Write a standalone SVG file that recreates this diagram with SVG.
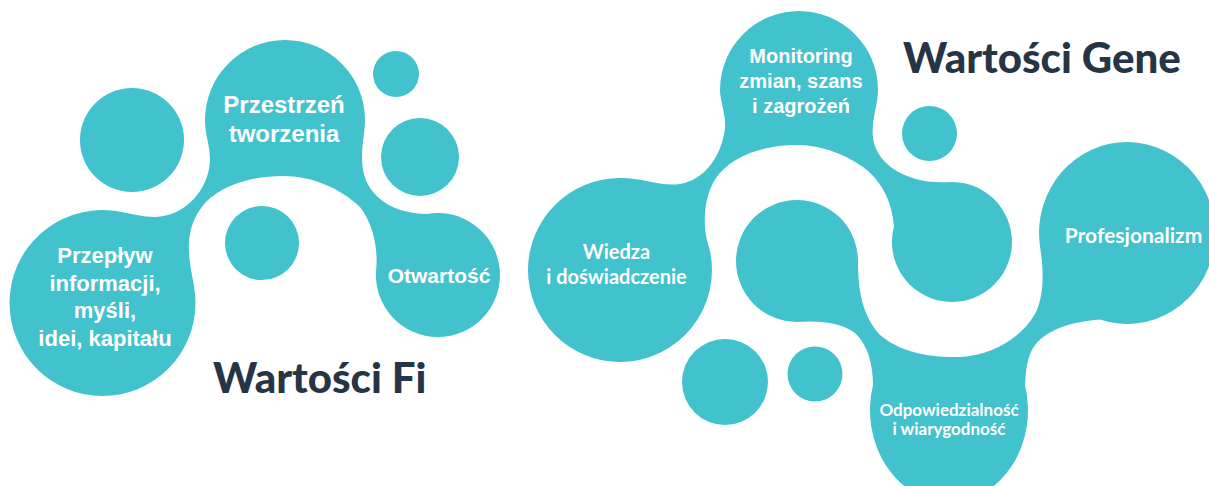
<svg xmlns="http://www.w3.org/2000/svg" width="1209" height="486" viewBox="0 0 1209 486">
<style>
.t{fill:#42C2CC}
.a{font-family:"Liberation Sans",Arial,sans-serif;font-weight:700;fill:#fff;text-anchor:middle}
.l{font-family:Lato,"Noto Sans",sans-serif;font-weight:700;fill:#fff;text-anchor:middle}
.h{font-family:Lato,"Noto Sans",sans-serif;font-weight:900;fill:#263545}
</style>
<rect width="1209" height="486" fill="#fff"/>
<g id="shapes-fi">
<path class="t" d="M102.5,396 A93,93 0 0 1 9.5,303 A93,93 0 0 1 110.6,210.4 C125,211.5 140,217 155,217 C185,216 209,190 210,160 C210,145 205,135 205,120 A80,80 0 0 1 365,120 C365,135 360,150 363,170 C368,198 395,214 427.2,214 A62,62 0 1 1 376.2,269.6 C378,250 374,225 360,207 C340,188 312,176 283,176 C250,176 222,186 206,202 C192,217 188,235 189,252 C190,272 195.5,285 195.5,303 A93,93 0 0 1 102.5,396 Z"/>
<circle class="t" cx="132" cy="140" r="52"/>
<circle class="t" cx="262" cy="243" r="37"/>
<circle class="t" cx="396" cy="74" r="23"/>
<circle class="t" cx="420" cy="157" r="39"/>
</g>
<g id="shapes-gene">
<path class="t" d="M620,362 A92,92 0 0 1 528,270 A92,92 0 0 1 620,178 C645,178 660,187 680,184 C705,180 722,155 725,128 C726,115 720,100 720,90 A79,79 0 0 1 878,90 C878,105 871,120 873,138 C876,163 905,184 946.8,182.2 A60,60 0 1 1 894,226.5 C892,200 880,178 860,165 C842,153 820,145 797,145 C760,145 730,158 716,178 C706,193 704,212 705,228 C706,238 708,244 709.6,249.3 A92,92 0 0 1 620,362 Z"/>
<path class="t" d="M797,322 A61,61 0 0 1 736,261 A61,61 0 0 1 797,200 A61,61 0 0 1 858,261 C858,290 862,315 880,335 C900,352 930,358 960,357 C995,355 1025,335 1037,310 C1045,290 1043,265 1039.8,245 A88,91 0 1 1 1100,319.6 C1070,322 1045,330 1033,348 C1027,358 1026,370 1025,385 A79,92 0 1 1 873,385 C873,365 868,345 855,333 C842,323 820,320 797,322 Z"/>
<circle class="t" cx="929.5" cy="133.5" r="27.5"/>
<circle class="t" cx="725" cy="382" r="43"/>
<circle class="t" cx="815" cy="374" r="27.5"/>
</g>
<g id="node-przestrzen"><text class="a" font-size="24" x="284" y="113">Przestrzeń</text><text class="a" font-size="24" x="284" y="142">tworzenia</text></g>
<g id="node-przeplyw"><text class="a" font-size="22" x="105" y="263">Przepływ</text><text class="a" font-size="22" x="105" y="290.5">informacji,</text><text class="a" font-size="22" x="105" y="318">myśli,</text><text class="a" font-size="22" x="105" y="345.5">idei, kapitału</text></g>
<g id="node-otwartosc"><text class="a" font-size="21" x="439" y="283">Otwartość</text></g>
<g id="title-fi"><text class="h" font-size="42" x="213" y="393">Wartości Fi</text></g>
<g id="node-monitoring"><text class="a" font-size="20" x="801" y="63">Monitoring</text><text class="a" font-size="20" x="801" y="88">zmian, szans</text><text class="a" font-size="20" x="801" y="113">i zagrożeń</text></g>
<g id="title-gene"><text class="h" font-size="42" x="903" y="73">Wartości Gene</text></g>
<g id="node-wiedza"><text class="l" font-size="20" x="616.5" y="259">Wiedza</text><text class="l" font-size="20" x="616.5" y="284">i doświadczenie</text></g>
<g id="node-profesjonalizm"><text class="l" font-size="21" x="1133.5" y="243">Profesjonalizm</text></g>
<g id="node-odpowiedzialnosc"><text class="l" font-size="17" x="949" y="416">Odpowiedzialność</text><text class="l" font-size="17" x="949" y="435">i wiarygodność</text></g>
</svg>
